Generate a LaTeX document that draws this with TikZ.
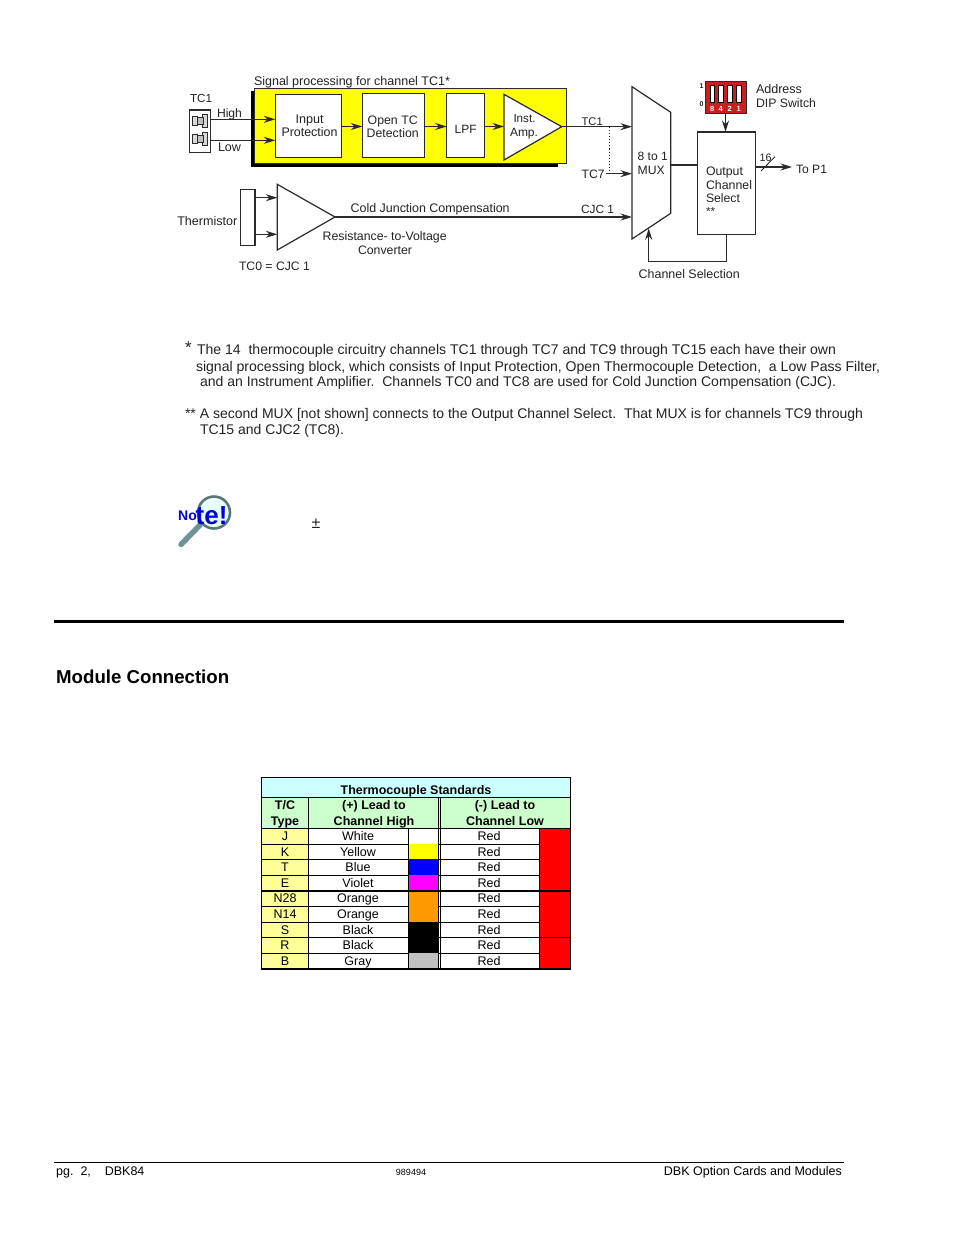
\documentclass[tikz,border=0pt]{standalone}
\usepackage{fontspec}
\usepackage{graphicx}
\setmainfont{Liberation Sans}
\usetikzlibrary{arrows.meta,calc}
\definecolor{ink}{HTML}{222222}
\definecolor{ln}{HTML}{2A2A2A}
\definecolor{yel}{HTML}{FFFF00}
\definecolor{hdcyan}{HTML}{CCFFFF}
\definecolor{hdgreen}{HTML}{CCFFCC}
\definecolor{hdyel}{HTML}{FFFF99}
\definecolor{orng}{HTML}{FF9900}
\definecolor{viol}{HTML}{FF00FF}
\definecolor{gry}{HTML}{C0C0C0}
\definecolor{dipred}{HTML}{C8201F}
\definecolor{teal2}{HTML}{6F9496}
\newcommand{\wt}[2]{\resizebox{#1pt}{!}{\strut\fontsize{12}{14}\selectfont #2}}
\tikzset{
  txt/.style={inner sep=0pt,outer sep=0pt,anchor=base west,text=ink},
  ctxt/.style={inner sep=0pt,outer sep=0pt,anchor=base,text=ink},
  tcell/.style={inner sep=0pt,outer sep=0pt,anchor=base,text=black,font=\fontsize{12.5}{14}\selectfont},
  thead/.style={tcell,font=\fontsize{12.5}{14}\selectfont\bfseries},
  block/.style={draw=ln,line width=1.1pt,fill=white,inner sep=0pt,outer sep=0pt},
  wire/.style={draw=ln,line width=1.2pt},
  arr/.style={draw=ln,line width=1.2pt,-{Stealth[length=11.5pt,width=7pt]}},
  grid/.style={draw=black,line width=1pt}
}
\begin{document}
\begin{tikzpicture}[x=1pt,y=-1pt]
\useasboundingbox (0,0) rectangle (954,1235);
% yellow processing panel
\fill[black] (251,91) rectangle (254,167);
\fill[black] (251,164) rectangle (557.7,167);
\node[draw=ln,line width=1pt,fill=yel,inner sep=0pt,minimum width=312pt,minimum height=75.5pt] (panel) at (410,126.2) {};
\node[block,minimum width=66pt,minimum height=63pt] (ip) at (308.3,125.8) {};
\node[block,minimum width=62.4pt,minimum height=63.6pt] (od) at (393.5,125.5) {};
\node[block,minimum width=38pt,minimum height=63.6pt] (lpf) at (465.7,125.5) {};
\filldraw[fill=white,draw=ln,line width=1.2pt] (504,94.3) coordinate (ia1) -- (561.7,126.7) coordinate (iaout) -- (504,160) coordinate (ia2) -- cycle;
\coordinate (iain) at (504,126.7);
% TC1 connector
\node[block,minimum width=21.4pt,minimum height=42.3pt] (tcc) at (200,131.1) {};
\foreach \n/\y in {a/121,b/139}{
  \node[draw=ln,line width=1pt,fill=gry!60,inner sep=0pt,minimum width=5pt,minimum height=9.5pt] (plug\n) at (194.7,\y) {};
  \node[draw=ln,line width=1pt,fill=gry!60,inner sep=0pt,minimum width=4.5pt,minimum height=12.5pt] (pin\n) at (205,\y) {};
  \node[draw=ln,line width=.8pt,fill=gry,inner sep=0pt,minimum width=6pt,minimum height=7pt] (body\n) at (200,\y) {};
}
\coordinate (hi) at (210.7,119.3);
\coordinate (lo) at (210.7,140.3);
\draw[arr] (hi) -- (hi -| ip.west);
\draw[arr] (lo) -- (lo -| ip.west);
\coordinate (ipo) at (341.3,126.5);
\draw[arr] (ipo) -- (ipo -| od.west);
\draw[arr] (od.east |- ipo) -- (ipo -| lpf.west);
\draw[arr] (lpf.east |- ipo) -- (iain |- ipo);
% MUX
\coordinate (m1) at (632,86.7); \coordinate (m2) at (670.7,112.3);
\coordinate (m3) at (670.7,213.3); \coordinate (m4) at (632,239);
\draw[wire,fill=white] (m1) -- (m2) -- (m3) -- (m4) -- cycle;
\draw[arr] (iaout) -- (iaout -| m1);
\coordinate (tc7s) at (606,173.7);
\draw[arr] (tc7s) -- (tc7s -| m1);
\coordinate (dotA) at (609.3,126.7);
\draw[draw=ln,line width=1.1pt,dotted] (dotA) -- (dotA |- tc7s);
% Thermistor + amp
\node[block,minimum width=14.3pt,minimum height=56.3pt] (th) at (247.8,217.2) {};
\coordinate (cj1) at (277.3,184.3); \coordinate (cjo) at (335,217); \coordinate (cj2) at (277.3,250);
\draw[wire,fill=white] (cj1) -- (cjo) -- (cj2) -- cycle;
\coordinate (th1) at (255,197.7); \coordinate (th2) at (255,234.3);
\draw[arr] (th1) -- (th1 -| cj1);
\draw[arr] (th2) -- (th2 -| cj1);
\draw[arr] (cjo) -- (cjo -| m1);
% output select
\node[block,minimum width=58.4pt,minimum height=102.7pt] (os) at (726.5,183.3) {};
\coordinate (mo) at (670.7,165);
\draw[wire] (mo) -- (mo -| os.west);
\coordinate (toP) at (792,167);
\draw[arr] (toP -| os.east) -- (toP);
\coordinate (sl1) at (761,171); \coordinate (sl2) at (775,156.7);
\draw[draw=ln,line width=.9pt] (sl1) -- (sl2);
\coordinate (fb) at (648.7,261.7);
\coordinate (fbe) at (648.7,228.3);
\draw[arr] (os.south) -- (os.south |- fb) -- (fb) -- (fbe);
% DIP
\node[fill=dipred,draw=ln,line width=.6pt,inner sep=0pt,minimum width=41pt,minimum height=32pt] (dip) at (725.5,97.7) {};
\foreach \x/\l in {712.3/8,720.7/4,729.7/2,738.7/1}{
  \node[fill=white,draw=black,line width=.7pt,inner sep=0pt,minimum width=4.4pt,minimum height=16.5pt] (sw\l) at (\x,93.7) {};
  \node[inner sep=0pt,anchor=base,text=white,font=\fontsize{7.5}{8}\selectfont\bfseries] (swl\l) at (\x,111) {\l};
}
\draw[arr] (dip.south) -- (dip.south |- os.north);
\node[inner sep=0pt,anchor=base,text=ink,font=\fontsize{7}{8}\selectfont\bfseries] (d1) at (701.5,88) {1};
\node[inner sep=0pt,anchor=base,text=ink,font=\fontsize{7}{8}\selectfont\bfseries] (d0) at (701.5,106.5) {0};
% diagram labels
\node[txt] (l1) at (254,85) {\wt{196}{Signal processing for channel TC1*}};
\node[txt] (l2) at (190,102) {\wt{22}{TC1}};
\node[txt] (l3) at (217,117) {\wt{25}{High}};
\node[txt] (l4) at (218,151) {\wt{23}{Low}};
\node[ctxt] (l5) at (309.5,123.3) {\wt{28}{Input}};
\node[ctxt] (l6) at (309.5,136.7) {\wt{56}{Protection}};
\node[ctxt] (l7) at (392.7,124.3) {\wt{50}{Open TC}};
\node[ctxt] (l8) at (392.7,137.7) {\wt{52}{Detection}};
\node[ctxt] (l9) at (465.7,133) {\wt{22}{LPF}};
\node[ctxt] (l10) at (524.5,122.3) {\wt{22}{Inst.}};
\node[ctxt] (l11) at (524,136.7) {\wt{28}{Amp.}};
\node[txt] (l12) at (581.7,125) {\wt{21}{TC1}};
\node[txt] (l13) at (581.7,178) {\wt{23}{TC7}};
\node[txt] (l14) at (581,213.7) {\wt{33}{CJC 1}};
\node[txt] (l15) at (637.7,160.7) {\wt{30}{8 to 1}};
\node[txt] (l16) at (637.7,174.3) {\wt{27}{MUX}};
\node[txt] (l17) at (756,93.3) {\wt{46}{Address}};
\node[txt] (l18) at (756,107) {\wt{60}{DIP Switch}};
\node[txt] (l19) at (706,175) {\wt{37}{Output}};
\node[txt] (l20) at (706,189) {\wt{46}{Channel}};
\node[txt] (l21) at (706,202.3) {\wt{34}{Select}};
\node[txt] (l22) at (706,215) {\wt{9}{**}};
\node[txt] (l23) at (759.5,161.5) {\wt{12}{16}};
\node[txt] (l24) at (796,173) {\wt{31}{To P1}};
\node[txt] (l25) at (638.7,278) {\wt{101}{Channel Selection}};
\node[txt] (l26) at (177.3,225) {\wt{60}{Thermistor}};
\node[txt] (l27) at (350.7,212.3) {\wt{159}{Cold Junction Compensation}};
\node[txt] (l28) at (322.7,240) {\wt{124}{Resistance- to-Voltage}};
\node[ctxt] (l29) at (385,254) {\wt{54}{Converter}};
\node[txt] (l30) at (239,270.5) {\wt{71}{TC0 = CJC 1}};
% notes
\node[txt] (n0) at (185,353) {\fontsize{17}{18}\selectfont *};
\node[txt] (n1) at (197,354) {\wt{639}{The 14\ \ thermocouple circuitry channels TC1 through TC7 and TC9 through TC15 each have their own}};
\node[txt] (n2) at (196,371) {\wt{684}{signal processing block, which consists of Input Protection, Open Thermocouple Detection,\ \ a Low Pass Filter,}};
\node[txt] (n3) at (200,386) {\wt{636}{and an Instrument Amplifier.\ \ Channels TC0 and TC8 are used for Cold Junction Compensation (CJC).}};
\node[txt] (n4) at (185,418) {\wt{678}{** A second MUX [not shown] connects to the Output Channel Select.\ \ That MUX is for channels TC9 through}};
\node[txt] (n5) at (200,434) {\wt{144}{TC15 and CJC2 (TC8).}};
% note icon
\draw[teal2,line width=5.5pt,line cap=round] (181,544.5) -- (200,525);
\node[circle,draw=teal2!80!black,line width=2.6pt,fill=hdcyan!45,minimum size=32pt,inner sep=0pt] (lens) at (214,512.5) {};
\node[inner sep=0pt,anchor=base west,text=blue!85!black,font=\fontsize{14}{16}\selectfont\bfseries] (no) at (178,520) {No};
\node[inner sep=0pt,anchor=base west,text=blue!85!black,font=\fontsize{26}{28}\selectfont\bfseries] (te) at (195.5,524) {te!};
\node[inner sep=0pt,anchor=base,text=ink,font=\fontsize{16}{18}\selectfont] (pm) at (316,528) {±};
% rules
\coordinate (r1a) at (54,621); \coordinate (r1b) at (844,621);
\draw[black,line width=3pt] (r1a) -- (r1b);
\coordinate (r2a) at (54,1162.5); \coordinate (r2b) at (844,1162.5);
\draw[black,line width=.7pt] (r2a) -- (r2b);
\node[inner sep=0pt,anchor=base west,text=black,font=\fontsize{18.65}{20}\selectfont\bfseries] (mc) at (56,683) {Module Connection};
\node[inner sep=0pt,anchor=base west,text=black,font=\fontsize{12.5}{14}\selectfont] (f1) at (56,1175) {pg.\ \ 2,\ \ \ \ DBK84};
\node[inner sep=0pt,anchor=base,text=black,font=\fontsize{9}{10}\selectfont] (f2) at (411,1175) {989494};
\node[inner sep=0pt,anchor=base east,text=black,font=\fontsize{12.5}{14}\selectfont] (f3) at (842,1175) {DBK Option Cards and Modules};
% table fills
\fill[hdcyan] (261.7,777.5) rectangle (570.7,797.5);
\fill[hdgreen] (261.7,797.5) rectangle (570.7,828.7);
\fill[hdyel] (261.7,828.7) rectangle (308.3,969);
\node[thead] (h0) at (416,794) {Thermocouple Standards};
\node[thead] (h1) at (285,809.7) {T/C};
\node[thead] (h2) at (285,825) {Type};
\node[thead] (h3) at (374,809.7) {(+) Lead to};
\node[thead] (h4) at (374,825) {Channel High};
\node[thead] (h5) at (505,809.7) {(-) Lead to};
\node[thead] (h6) at (505,825) {Channel Low};
\foreach \i/\t/\c/\f/\ya/\yb in {
  1/J/White/white/828.7/844,
  2/K/Yellow/yel/844/859.3,
  3/T/Blue/blue/859.3/875.3,
  4/E/Violet/viol/875.3/890.7,
  5/N28/Orange/orng/890.7/906,
  6/N14/Orange/orng/906/922.3,
  7/S/Black/black/922.3/937.7,
  8/R/Black/black/937.7/953.3,
  9/B/Gray/gry/953.3/969}{
  \fill[\f] (408.3,\ya) rectangle (438.7,\yb);
  \fill[red] (539.3,\ya) rectangle (570.7,\yb);
  \node[tcell] (ty\i) at (285,\ya+12.2) {\t};
  \node[tcell] (co\i) at (358,\ya+12.2) {\c};
  \node[tcell] (re\i) at (489,\ya+12.2) {Red};
  \draw[grid,line width=.9pt] (261.7,\yb) -- (570.7,\yb);
}
% table grid
\draw[grid] (261.7,797.5) -- (570.7,797.5);
\draw[grid] (261.7,828.7) -- (570.7,828.7);
\draw[grid,line width=1.8pt] (261.7,890.7) -- (570.7,890.7);
\draw[grid] (308.3,797.5) -- (308.3,969);
\draw[grid] (408.3,828.7) -- (408.3,969);
\draw[grid,line width=.9pt] (438.5,797.5) -- (438.5,969);
\draw[grid,line width=.9pt] (440.5,797.5) -- (440.5,969);
\draw[grid] (539.3,828.7) -- (539.3,969);
\draw[grid,line width=1.2pt] (261.7,777.5) rectangle (570.7,969);
\draw[grid,line width=1.8pt] (261.7,969) -- (570.7,969);
\end{tikzpicture}
\end{document}
